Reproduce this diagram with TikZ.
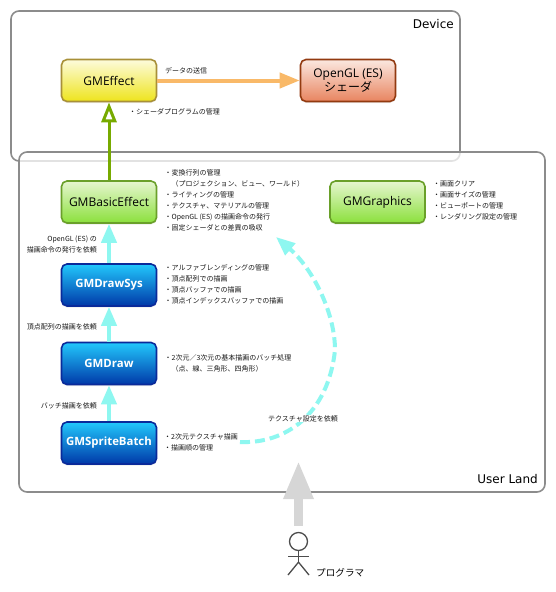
\documentclass[tikz,border=0pt]{standalone}
\usepackage{fontspec}
\setmainfont{DejaVu Sans}
\newfontfamily\classfont{Open Sans}
\newfontfamily\cjk{Noto Sans CJK JP}
\usetikzlibrary{arrows.meta,shadows}
\definecolor{framegray}{HTML}{8C8C8C}
\definecolor{aqualine}{HTML}{8EF7F0}
\definecolor{sendline}{HTML}{F9B968}
\definecolor{inheritline}{HTML}{77AA00}
\definecolor{yellowedge}{HTML}{A89038}
\definecolor{yellowtop}{HTML}{FDFBDC}
\definecolor{yellowend}{HTML}{EEE41C}
\definecolor{rededge}{HTML}{923A10}
\definecolor{redtop}{HTML}{FBE8E0}
\definecolor{redend}{HTML}{E8845F}
\definecolor{greenedge}{HTML}{6AA02A}
\definecolor{greentop}{HTML}{E6F6D0}
\definecolor{greenend}{HTML}{8BE03C}
\definecolor{blueedge}{HTML}{0A2A9A}
\definecolor{bluetop}{HTML}{22C8FC}
\definecolor{blueend}{HTML}{0038A8}
\tikzset{
	frame/.style={draw=framegray, line width=1.6pt, rounded corners=8pt},
	classbox/.style={draw, line width=1.6pt, rounded corners=5.5pt, minimum width=95pt, minimum height=42pt, inner sep=0pt, outer sep=0.8pt, align=center, font=\classfont\fontsize{12}{14}\selectfont, drop shadow={shadow xshift=0pt, shadow yshift=-1.5pt, opacity=0.15}},
	yellowbox/.style={classbox, draw=yellowedge, top color=yellowtop, bottom color=yellowend},
	redbox/.style={classbox, draw=rededge, top color=redtop, bottom color=redend},
	greenbox/.style={classbox, draw=greenedge, top color=greentop, bottom color=greenend},
	bluebox/.style={classbox, text=white, draw=blueedge, top color=bluetop, bottom color=blueend, font=\classfont\bfseries\fontsize{11.4}{14}\selectfont},
	memo/.style={anchor=north west, inner sep=0pt, align=left, text=black!90, font=\cjk\fontsize{7}{11}\selectfont},
	askmemo/.style={anchor=north east, inner sep=0pt, align=right, text=black!90, font=\cjk\fontsize{7}{11}\selectfont},
	areaname/.style={anchor=east, inner sep=0pt, font=\fontsize{12}{14}\selectfont},
	callarrow/.style={line width=4pt, aqualine, -{Triangle[length=19pt,width=15pt]}},
	sendarrow/.style={line width=4pt, sendline, -{Triangle[length=20pt,width=15pt]}},
	inherit/.style={line width=3pt, inheritline, -{Triangle[open,fill=white,length=20pt,width=15pt]}},
	userarrow/.style={line width=9pt, black!16, -{Triangle[length=38pt,width=28pt]}},
	actorline/.style={line width=1.3pt, black!70}
}

\begin{document}
\begin{tikzpicture}[x=1pt, y=-1pt]
	%%%%% START %%%%%
	\useasboundingbox (0, 0) rectangle (556, 592);

	\draw[frame] (11, 11) rectangle (460, 161);
	\node[areaname] (device) at (454, 24) {Device};
	\draw[frame, fill=white, fill opacity=0.75] (19, 152) rectangle (545, 492);
	\node[areaname] (userland) at (538, 479) {User Land};

	\node[yellowbox] (effect) at (109, 80.5) {GMEffect};
	\node[redbox] (shader) at (348, 80.5) {OpenGL (ES)\\{\cjk シェーダ}};
	\node[greenbox] (basic) at (109, 202) {GMBasicEffect};
	\node[greenbox] (graphics) at (377.5, 202) {GMGraphics};
	\node[bluebox] (drawsys) at (109, 285) {GMDrawSys};
	\node[bluebox] (gmdraw) at (109, 363.5) {GMDraw};
	\node[bluebox] (sprite) at (109, 443) {GMSpriteBatch};

	\draw[sendarrow] (effect) -- (shader);
	\draw[inherit] (basic) -- (effect);
	\draw[callarrow] (drawsys) -- (basic);
	\draw[callarrow] (gmdraw) -- (drawsys);
	\draw[callarrow] (sprite) -- (gmdraw);

	% dashed request
	\coordinate (texstart) at (240, 442);
	\coordinate (texgoal) at (276, 237);
	\draw[callarrow, dash pattern=on 10pt off 5pt] (texstart) .. controls (285, 444) and (328, 415) .. (335, 350) .. controls (335, 312) and (312, 268) .. (texgoal);

	\node[memo] (sendnote) at (165, 67.5) {データの送信};
	\node[memo] (effectnote) at (129, 108.5) {・シェーダプログラムの管理};
	\node[memo] (basicnote) at (164.5, 169) {・変換行列の管理\\　（プロジェクション、ビュー、ワールド）\\・ライティングの管理\\・テクスチャ、マテリアルの管理\\・OpenGL (ES) の描画命令の発行\\・固定シェーダとの差異の吸収};
	\node[memo] (graphicsnote) at (433, 180.5) {・画面クリア\\・画面サイズの管理\\・ビューポートの管理\\・レンダリング設定の管理};
	\node[memo] (drawsysnote) at (164.5, 264) {・アルファブレンディングの管理\\・頂点配列での描画\\・頂点バッファでの描画\\・頂点インデックスバッファでの描画};
	\node[memo] (drawnote) at (164.5, 354) {・2次元／3次元の基本描画のバッチ処理\\　（点、線、三角形、四角形）};
	\node[memo] (spritenote) at (164, 433) {・2次元テクスチャ描画\\・描画順の管理};
	\node[askmemo] (askbasic) at (97, 236) {OpenGL (ES) の\\描画命令の発行を依頼};
	\node[askmemo] (askdrawsys) at (97, 323) {頂点配列の描画を依頼};
	\node[askmemo] (askdraw) at (97, 402) {バッチ描画を依頼};
	\node[memo, fill=white] (asktexture) at (268, 415) {テクスチャ設定を依頼};

	% user
	\node[circle, draw=black!70, line width=1.3pt, minimum size=18pt, inner sep=0pt] (actor) at (298.5, 541.5) {};
	\draw[userarrow, shorten <=6pt] (actor) -- ++(0, -80.5);
	\draw[actorline] (actor.south) -- ++(0, 11) coordinate (hip) ++(-10.5, -6) -- ++(21, 0);
	\draw[actorline] (288, 575) -- (hip) -- (309, 575);
	\node[memo, text=black, font=\cjk\fontsize{9.6}{11}\selectfont] (coder) at (316, 568) {プログラマ};
	%%%%% END %%%%%
\end{tikzpicture}
\end{document}
